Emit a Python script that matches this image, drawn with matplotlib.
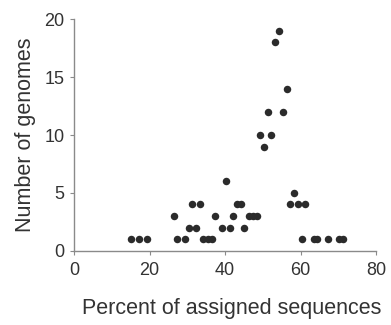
import matplotlib
matplotlib.use("Agg")
import matplotlib.pyplot as plt

# percent of assigned sequences vs number of genomes
pct = [15.1, 17.3, 19.3, 27.3, 29.3, 34.3, 35.4, 36.5, 60.3, 63.5, 64.4, 67.3, 70.2, 71.3,
       30.4, 32.4, 39.3, 41.2, 45.1,
       26.4, 37.3, 42.2, 46.3, 47.3, 48.4,
       31.3, 33.3, 43.2, 44.2, 57.3, 59.3, 61.3,
       58.2, 40.3, 50.3, 49.3, 52.3, 51.3, 55.3, 56.3, 53.3, 54.3]
genomes = [1, 1, 1, 1, 1, 1, 1, 1, 1, 1, 1, 1, 1, 1,
           2, 2, 2, 2, 2,
           3, 3, 3, 3, 3, 3,
           4, 4, 4, 4, 4, 4, 4,
           5, 6, 9, 10, 10, 12, 12, 14, 18, 19]

x_ticks = [0, 20, 40, 60, 80]
y_ticks = [0, 5, 10, 15, 20]

plt.rcParams['font.family'] = ['Liberation Sans', 'DejaVu Sans']

fig = plt.figure(figsize=(3.91, 3.25), dpi=100)
ax = fig.add_axes([74/391, 1 - 250.7/325, 302/391, 231.4/325])

ax.plot(pct, genomes, 'o', color='#2b2b2b', markersize=5.4, markeredgewidth=0, clip_on=False)

ax.set_xlim(0, 80)
ax.set_ylim(0, 20)
ax.set_xticks(x_ticks)
ax.set_yticks(y_ticks)

for s in ['top', 'right']:
    ax.spines[s].set_visible(False)
for s in ['left', 'bottom']:
    ax.spines[s].set_color('#8a8a8a')
    ax.spines[s].set_linewidth(1.0)
ax.tick_params(colors='#8a8a8a', labelcolor='#333333', labelsize=13, length=3, width=0.8)
ax.tick_params(axis='x', pad=5)
ax.tick_params(axis='y', pad=4)

ax.set_xlabel('Percent of assigned sequences', fontsize=15.5, color='#333333', labelpad=14)
ax.xaxis.label.set_x(0.523)
ax.set_ylabel('Number of genomes', fontsize=15.5, color='#333333', labelpad=6)

fig.savefig('out.png', dpi=100)
